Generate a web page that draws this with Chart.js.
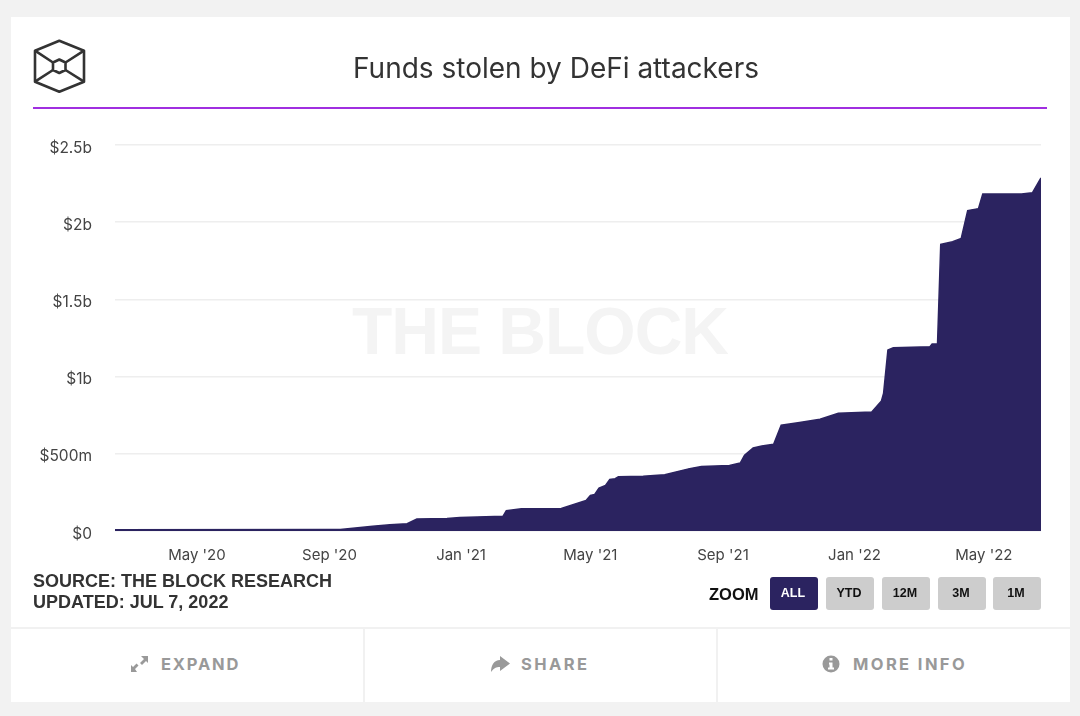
<!DOCTYPE html>
<html>
<head>
<meta charset="utf-8">
<title>Funds stolen by DeFi attackers</title>
<script src="https://cdn.jsdelivr.net/npm/chart.js@4/dist/chart.umd.min.js"></script>
<style>
html, body { margin: 0; padding: 0; }
body { width: 1080px; height: 716px; background: #f2f2f2; position: relative; overflow: hidden; font-family: Inter, sans-serif; }
#card { position: absolute; left: 11px; top: 17px; width: 1059px; height: 685px; background: #fff; }
#logo { position: absolute; left: 0; top: 0; z-index: 5; }
#title { position: absolute; left: 256px; top: 48px; width: 600px; text-align: center; font-size: 28px; line-height: 40px; color: #333; }
#rule { position: absolute; left: 33px; top: 107px; width: 1014px; height: 2px; background: #a02fe0; }
#mark { position: absolute; left: 240px; top: 291px; width: 600px; text-align: center; font: bold 66px/80px "Liberation Sans", sans-serif; letter-spacing: -1px; color: #f4f4f4; }
#chart { position: absolute; left: 0; top: 0; }
#source { position: absolute; left: 33px; top: 571px; font: bold 18px/21px "Liberation Sans", sans-serif; color: #333; }
#zoomlabel { position: absolute; left: 709px; top: 584px; font: bold 16.5px/20px "Liberation Sans", sans-serif; color: #111; }
.btn { position: absolute; top: 577px; width: 48px; height: 33px; border-radius: 3px; background: #cdcdcd; color: #111; text-align: center; text-indent: -2px; font: bold 12.5px/33px "Liberation Sans", sans-serif; }
.btn.on { background: #2b2360; color: #fff; }
.foot { position: absolute; top: 627px; height: 75px; background: #fff; border-top: 2px solid #f1f1f1; box-sizing: border-box; }
.foot span { position: absolute; top: 26px; font-size: 16.5px; line-height: 22px; font-weight: 700; letter-spacing: 1.8px; color: #999; white-space: nowrap; }
.sep { position: absolute; top: 627px; width: 2px; height: 75px; background: #f1f1f1; }
</style>
</head>
<body>
<div id="card"></div>
<div id="mark">THE BLOCK</div>
<canvas id="chart" width="1080" height="716"></canvas>
<div id="title">Funds stolen by DeFi attackers</div>
<div id="rule"></div>
<div id="source">SOURCE: THE BLOCK RESEARCH<br>UPDATED: JUL 7, 2022</div>
<div id="zoomlabel">ZOOM</div>
<div class="btn on" style="left:770px">ALL</div>
<div class="btn" style="left:826px">YTD</div>
<div class="btn" style="left:882px">12M</div>
<div class="btn" style="left:938px">3M</div>
<div class="btn" style="left:993px">1M</div>
<div class="foot" style="left:11px;width:1059px"></div>
<div class="sep" style="left:363px"></div>
<div class="sep" style="left:716px"></div>
<div class="foot" style="left:0;width:0;border:0">
  <span style="left:161px">EXPAND</span>
  <span style="left:521px;letter-spacing:2.4px">SHARE</span>
  <span style="left:853px;letter-spacing:2.4px">MORE INFO</span>
</div>
<svg id="logo" width="1080" height="716" viewBox="0 0 1080 716" fill="none">
  <g stroke="#333" stroke-width="2.6" stroke-linejoin="round">
    <path d="M59.3 40.7L84 50.7V81.7L59.3 91.7L35 81.7V50.7Z"/>
    <path d="M59.3 59.5L65.5 62.5V70L59.3 73L53 70V62.5Z"/>
    <path d="M35 50.7L53 62.5M84 50.7L65.5 62.5M35 81.7L53 70M84 81.7L65.5 70"/>
  </g>
  <g fill="#999">
    <path d="M141 656H148V663L146 661L142 665L140 663L144 659Z"/>
    <path d="M131 672V665L133 667L136.5 663.5L138.5 665.5L135 669L137 672Z"/>
    <path d="M500 656L510 663.5L500 671V667C496 667 494 668 491 672C491 665 494 660 500 660Z"/>
    <circle cx="831" cy="664" r="8.5"/>
  </g>
  <path d="M829.5 658H832.5V660.5H829.5ZM829 662.5H832.5V667.5H834V669.5H828V667.5H829.5V664.5H829Z" fill="#fff"/>
</svg>
<script>
"use strict";

var dates = ["2020-02-15", "2020-09-01", "2020-09-11", "2020-10-11", "2020-10-27", "2020-11-12", "2020-11-21",
  "2020-12-19", "2020-12-31", "2021-02-09", "2021-02-12", "2021-02-26", "2021-04-04", "2021-04-27", "2021-05-01",
  "2021-05-05", "2021-05-09", "2021-05-15", "2021-05-19", "2021-05-24", "2021-05-27", "2021-06-19", "2021-07-09",
  "2021-08-01", "2021-08-12", "2021-09-07", "2021-09-17", "2021-09-21", "2021-09-29", "2021-10-07", "2021-10-18",
  "2021-10-25", "2021-11-11", "2021-11-30", "2021-12-17", "2022-01-17", "2022-01-26", "2022-01-28", "2022-02-01",
  "2022-02-06", "2022-03-12", "2022-03-14", "2022-03-19", "2022-03-22", "2022-04-02", "2022-04-10", "2022-04-16",
  "2022-04-26", "2022-04-30", "2022-06-05", "2022-06-15", "2022-06-23"];

// millions of dollars
var stolen = [8, 9, 10, 31, 40, 47, 77,
  81, 88, 96, 131, 144, 146, 198, 231,
  237, 278, 295, 334, 339, 352, 354, 365,
  404, 417, 425, 440, 490, 538, 551, 562,
  685, 703, 724, 763, 770, 842, 893, 1172,
  1187, 1194, 1211, 1211, 1856, 1874, 1895, 2075,
  2088, 2183, 2183, 2190, 2287];

var xTickDates = ["2020-05-01", "2020-09-01", "2021-01-01", "2021-05-01", "2021-09-01", "2022-01-01", "2022-05-01"];
var xTickLabels = ["May '20", "Sep '20", "Jan '21", "May '21", "Sep '21", "Jan '22", "May '22"];
var yTickValues = [0, 500, 1000, 1500, 2000, 2500];
var yTickLabels = ["$0", "$500m", "$1b", "$1.5b", "$2b", "$2.5b"];

var points = dates.map(function (d, i) {
  return { x: Date.parse(d), y: stolen[i] };
});
var xTicks = xTickDates.map(function (d) { return Date.parse(d); });

new Chart(document.getElementById("chart").getContext("2d"), {
  type: "line",
  data: {
    datasets: [{
      data: points,
      borderColor: "#2b2360",
      borderWidth: 1.5,
      backgroundColor: "#2b2360",
      fill: "origin",
      pointRadius: 0,
      tension: 0
    }]
  },
  options: {
    responsive: false,
    animation: false,
    layout: { padding: { left: 15, right: 39, top: 145, bottom: 148 } },
    plugins: {
      legend: { display: false },
      tooltip: { enabled: false }
    },
    scales: {
      x: {
        type: "linear",
        min: Date.parse("2020-02-15"),
        max: Date.parse("2022-06-23"),
        border: { display: false },
        grid: { display: false },
        afterBuildTicks: function (axis) {
          axis.ticks = xTicks.map(function (v) { return { value: v }; });
        },
        afterFit: function (axis) { axis.height = 37; },
        ticks: {
          autoSkip: false,
          maxRotation: 0,
          padding: 7,
          color: "#444",
          font: { family: "Inter", size: 15 },
          callback: function (v) { return xTickLabels[xTicks.indexOf(v)]; }
        }
      },
      y: {
        min: 0,
        max: 2500,
        border: { display: false },
        grid: { color: "#eeeeee", lineWidth: 1.5, drawTicks: false },
        afterBuildTicks: function (axis) {
          axis.ticks = yTickValues.map(function (v) { return { value: v }; });
        },
        afterFit: function (axis) { axis.width = 100; },
        ticks: {
          padding: 23,
          labelOffset: 3,
          color: "#444",
          font: { family: "Inter", size: 15.5 },
          callback: function (v) { return yTickLabels[yTickValues.indexOf(v)]; }
        }
      }
    }
  }
});
</script>
</body>
</html>
